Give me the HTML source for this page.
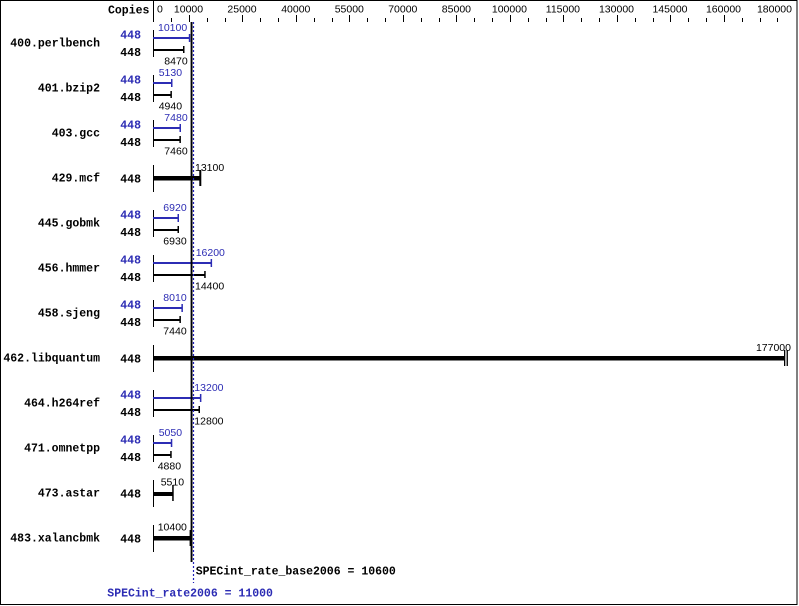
<!DOCTYPE html>
<html>
<head>
<meta charset="utf-8">
<style>
html,body{margin:0;padding:0;background:#fff;}
svg{display:block;}
.b{font-family:"Liberation Mono","DejaVu Sans Mono",monospace;font-weight:bold;font-size:11.5px;}
.v{font-family:"Liberation Sans","DejaVu Sans",sans-serif;font-size:10.5px;}
.bl{fill:#2c2cb4;}
</style>
</head>
<body>
<svg width="799" height="606" viewBox="0 0 799 606" xmlns="http://www.w3.org/2000/svg">
<rect x="0" y="0" width="799" height="606" fill="#fff"/>
<rect x="0.5" y="0.5" width="796.5" height="604" fill="none" stroke="#000" stroke-width="1"/>

<!-- header -->
<text class="b" x="108" y="13.3">Copies</text>
<rect x="153" y="0" width="1" height="22" fill="#000"/>
<g class="v" fill="#000">
<text x="157" y="12.3">0</text>
<text x="188.5" y="12.3" text-anchor="middle">10000</text>
<text x="242" y="12.3" text-anchor="middle">25000</text>
<text x="295.8" y="12.3" text-anchor="middle">40000</text>
<text x="349.3" y="12.3" text-anchor="middle">55000</text>
<text x="402.8" y="12.3" text-anchor="middle">70000</text>
<text x="456.4" y="12.3" text-anchor="middle">85000</text>
<text x="509.4" y="12.3" text-anchor="middle">100000</text>
<text x="562.9" y="12.3" text-anchor="middle">115000</text>
<text x="616.5" y="12.3" text-anchor="middle">130000</text>
<text x="670" y="12.3" text-anchor="middle">145000</text>
<text x="723.5" y="12.3" text-anchor="middle">160000</text>
<text x="792" y="12.3" text-anchor="end">180000</text>
</g>
<g fill="#000">
<rect x="171" y="18" width="1" height="4"/>
<rect x="189" y="15" width="1" height="7"/>
<rect x="207" y="18" width="1" height="4"/>
<rect x="225" y="18" width="1" height="4"/>
<rect x="242" y="15" width="1" height="7"/>
<rect x="260" y="18" width="1" height="4"/>
<rect x="278" y="18" width="1" height="4"/>
<rect x="296" y="15" width="1" height="7"/>
<rect x="314" y="18" width="1" height="4"/>
<rect x="332" y="18" width="1" height="4"/>
<rect x="349" y="15" width="1" height="7"/>
<rect x="367" y="18" width="1" height="4"/>
<rect x="385" y="18" width="1" height="4"/>
<rect x="403" y="15" width="1" height="7"/>
<rect x="421" y="18" width="1" height="4"/>
<rect x="439" y="18" width="1" height="4"/>
<rect x="456" y="15" width="1" height="7"/>
<rect x="474" y="18" width="1" height="4"/>
<rect x="492" y="18" width="1" height="4"/>
<rect x="510" y="15" width="1" height="7"/>
<rect x="528" y="18" width="1" height="4"/>
<rect x="546" y="18" width="1" height="4"/>
<rect x="563" y="15" width="1" height="7"/>
<rect x="581" y="18" width="1" height="4"/>
<rect x="599" y="18" width="1" height="4"/>
<rect x="617" y="15" width="1" height="7"/>
<rect x="635" y="18" width="1" height="4"/>
<rect x="653" y="18" width="1" height="4"/>
<rect x="670" y="15" width="1" height="7"/>
<rect x="688" y="18" width="1" height="4"/>
<rect x="706" y="18" width="1" height="4"/>
<rect x="724" y="15" width="1" height="7"/>
<rect x="742" y="18" width="1" height="4"/>
<rect x="760" y="18" width="1" height="4"/>
<rect x="777" y="18" width="1" height="4"/>
</g>

<!-- 400.perlbench c=43 -->
<text class="b" x="100" y="46.5" text-anchor="end">400.perlbench</text>
<text class="b bl" x="141" y="38.3" text-anchor="end">448</text>
<text class="b" x="141" y="56" text-anchor="end">448</text>
<rect x="153" y="30" width="1" height="27" fill="#000"/>
<rect x="153" y="37" width="36.5" height="2" class="bl"/>
<rect x="188.8" y="34" width="1.5" height="8" class="bl"/>
<rect x="153" y="49" width="30.7" height="2" fill="#000"/>
<rect x="183" y="46" width="1.5" height="7" fill="#000"/>
<text class="v bl" x="158" y="31">10100</text>
<text class="v" x="164.3" y="64.7">8470</text>

<!-- 401.bzip2 c=88 -->
<text class="b" x="100" y="91.5" text-anchor="end">401.bzip2</text>
<text class="b bl" x="141" y="83.3" text-anchor="end">448</text>
<text class="b" x="141" y="101" text-anchor="end">448</text>
<rect x="153" y="75" width="1" height="27" fill="#000"/>
<rect x="153" y="82" width="18.8" height="2" class="bl"/>
<rect x="171" y="79" width="1.5" height="8" class="bl"/>
<rect x="153" y="94" width="18.1" height="2" fill="#000"/>
<rect x="170.4" y="91" width="1.5" height="7" fill="#000"/>
<text class="v bl" x="158.7" y="76">5130</text>
<text class="v" x="158.7" y="109.7">4940</text>

<!-- 403.gcc c=133 -->
<text class="b" x="100" y="136.5" text-anchor="end">403.gcc</text>
<text class="b bl" x="141" y="128.3" text-anchor="end">448</text>
<text class="b" x="141" y="146" text-anchor="end">448</text>
<rect x="153" y="120" width="1" height="27" fill="#000"/>
<rect x="153" y="127" width="27.2" height="2" class="bl"/>
<rect x="179.5" y="124" width="1.5" height="8" class="bl"/>
<rect x="153" y="139" width="27.1" height="2" fill="#000"/>
<rect x="179.4" y="136" width="1.5" height="7" fill="#000"/>
<text class="v bl" x="164.3" y="121">7480</text>
<text class="v" x="164.3" y="154.7">7460</text>

<!-- 429.mcf c=178 single -->
<text class="b" x="100" y="181.5" text-anchor="end">429.mcf</text>
<text class="b" x="141" y="182.7" text-anchor="end">448</text>
<rect x="153" y="165" width="1" height="27" fill="#000"/>
<rect x="153" y="176" width="47.3" height="4.5" fill="#000"/>
<rect x="199.3" y="170" width="2" height="16" fill="#000"/>
<text class="v" x="195" y="171">13100</text>

<!-- 445.gobmk c=223 -->
<text class="b" x="100" y="226.5" text-anchor="end">445.gobmk</text>
<text class="b bl" x="141" y="218.3" text-anchor="end">448</text>
<text class="b" x="141" y="236" text-anchor="end">448</text>
<rect x="153" y="210" width="1" height="27" fill="#000"/>
<rect x="153" y="217" width="25.2" height="2" class="bl"/>
<rect x="177.5" y="214" width="1.5" height="8" class="bl"/>
<rect x="153" y="229" width="25.2" height="2" fill="#000"/>
<rect x="177.5" y="226" width="1.5" height="7" fill="#000"/>
<text class="v bl" x="163.3" y="211">6920</text>
<text class="v" x="163.3" y="244.7">6930</text>

<!-- 456.hmmer c=268 -->
<text class="b" x="100" y="271.5" text-anchor="end">456.hmmer</text>
<text class="b bl" x="141" y="263.3" text-anchor="end">448</text>
<text class="b" x="141" y="281" text-anchor="end">448</text>
<rect x="153" y="255" width="1" height="27" fill="#000"/>
<rect x="153" y="262" width="58.3" height="2" class="bl"/>
<rect x="210.6" y="259" width="1.5" height="8" class="bl"/>
<rect x="153" y="274" width="51.9" height="2" fill="#000"/>
<rect x="204.2" y="271" width="1.5" height="7" fill="#000"/>
<text class="v bl" x="195.7" y="256">16200</text>
<text class="v" x="195" y="289.7">14400</text>

<!-- 458.sjeng c=313 -->
<text class="b" x="100" y="316.5" text-anchor="end">458.sjeng</text>
<text class="b bl" x="141" y="308.3" text-anchor="end">448</text>
<text class="b" x="141" y="326" text-anchor="end">448</text>
<rect x="153" y="300" width="1" height="27" fill="#000"/>
<rect x="153" y="307" width="29.1" height="2" class="bl"/>
<rect x="181.4" y="304" width="1.5" height="8" class="bl"/>
<rect x="153" y="319" width="27.1" height="2" fill="#000"/>
<rect x="179.4" y="316" width="1.5" height="7" fill="#000"/>
<text class="v bl" x="163.3" y="301">8010</text>
<text class="v" x="163.3" y="334.7">7440</text>

<!-- 462.libquantum c=358 single -->
<text class="b" x="100" y="361.5" text-anchor="end">462.libquantum</text>
<text class="b" x="141" y="362.7" text-anchor="end">448</text>
<rect x="153" y="345" width="1" height="27" fill="#000"/>
<rect x="153" y="356" width="632" height="4.5" fill="#000"/>
<rect x="784" y="350" width="1.3" height="16" fill="#000"/>
<rect x="786.6" y="350" width="1.3" height="16" fill="#000"/>
<text class="v" x="791" y="351" text-anchor="end">177000</text>

<!-- 464.h264ref c=403 -->
<text class="b" x="100" y="406.5" text-anchor="end">464.h264ref</text>
<text class="b bl" x="141" y="398.3" text-anchor="end">448</text>
<text class="b" x="141" y="416" text-anchor="end">448</text>
<rect x="153" y="390" width="1" height="27" fill="#000"/>
<rect x="153" y="397" width="47.6" height="2" class="bl"/>
<rect x="199.9" y="394" width="1.5" height="8" class="bl"/>
<rect x="153" y="409" width="46.2" height="2" fill="#000"/>
<rect x="198.5" y="406" width="1.5" height="7" fill="#000"/>
<text class="v bl" x="194.3" y="391">13200</text>
<text class="v" x="194.3" y="424.7">12800</text>

<!-- 471.omnetpp c=448 -->
<text class="b" x="100" y="451.5" text-anchor="end">471.omnetpp</text>
<text class="b bl" x="141" y="443.3" text-anchor="end">448</text>
<text class="b" x="141" y="461" text-anchor="end">448</text>
<rect x="153" y="435" width="1" height="27" fill="#000"/>
<rect x="153" y="442" width="18.5" height="2" class="bl"/>
<rect x="170.8" y="439" width="1.5" height="8" class="bl"/>
<rect x="153" y="454" width="17.9" height="2" fill="#000"/>
<rect x="170.2" y="451" width="1.5" height="7" fill="#000"/>
<text class="v bl" x="158.7" y="436">5050</text>
<text class="v" x="157.7" y="469.7">4880</text>

<!-- 473.astar c=493 single -->
<text class="b" x="100" y="496.5" text-anchor="end">473.astar</text>
<text class="b" x="141" y="497.7" text-anchor="end">448</text>
<rect x="153" y="480" width="1" height="27" fill="#000"/>
<rect x="153" y="492" width="20.2" height="4" fill="#000"/>
<rect x="172.2" y="485" width="1.5" height="16" fill="#000"/>
<text class="v" x="160.7" y="485.5">5510</text>

<!-- 483.xalancbmk c=538 single -->
<text class="b" x="100" y="541.5" text-anchor="end">483.xalancbmk</text>
<text class="b" x="141" y="542.7" text-anchor="end">448</text>
<rect x="153" y="525" width="1" height="27" fill="#000"/>
<rect x="153" y="536" width="37.6" height="4.5" fill="#000"/>
<rect x="189.6" y="530" width="2" height="16" fill="#000"/>
<text class="v" x="157.7" y="530.5">10400</text>

<!-- mean lines -->
<rect x="190.6" y="22" width="1.9" height="540" fill="#000"/>
<line x1="193.5" y1="22" x2="193.5" y2="583" stroke="#2222b8" stroke-width="1.2" stroke-dasharray="2,2"/>

<text class="b" x="195.7" y="574.5">SPECint_rate_base2006 = 10600</text>
<text class="b bl" x="107.3" y="596.3">SPECint_rate2006 = 11000</text>
</svg>
</body>
</html>
